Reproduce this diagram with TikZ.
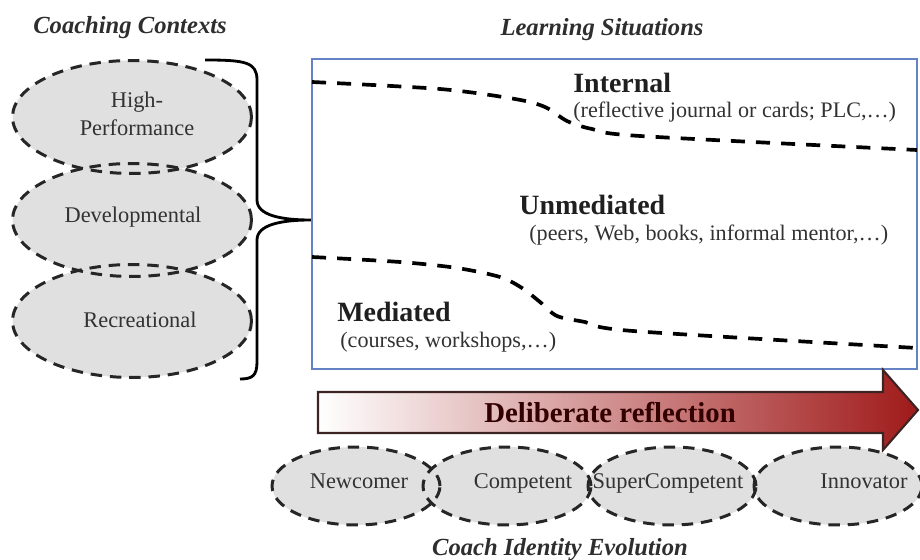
\documentclass[tikz,border=0pt]{standalone}
\usepackage{fontspec}
\setmainfont{Liberation Serif}
\usetikzlibrary{shapes.geometric}

\definecolor{ctxgray}{RGB}{224,224,224}
\definecolor{boxblue}{RGB}{100,130,196}
\definecolor{arrowred}{RGB}{160,26,26}
\definecolor{arrowline}{RGB}{60,36,36}
\definecolor{textgray}{RGB}{50,50,50}

\tikzset{
  stagefill/.style = {ellipse, fill = ctxgray, inner sep = 0pt},
  stageline/.style = {draw = black!85, line width = 1.7pt, dash pattern = on 6.5pt off 4.5pt},
  ctxlabel/.style = {font = \fontsize{12.75}{15.8}\selectfont, text = textgray, align = center, inner sep = 0pt},
  sitlabel/.style = {font = \fontsize{15.9}{18}\selectfont\bfseries, text = black!88, anchor = west, inner sep = 0pt},
  sitnote/.style = {font = \fontsize{12.6}{15}\selectfont, text = textgray, anchor = west, inner sep = 0pt},
  heading/.style = {font = \fontsize{14}{16}\selectfont\bfseries\itshape, text = black!82, inner sep = 0pt},
  divider/.style = {line width = 2.1pt, dash pattern = on 8pt off 6.3pt}
}

\begin{document}
\begin{tikzpicture}[x = 0.02cm, y = -0.02cm]
\useasboundingbox (0,0) rectangle (920,560);
\clip (0,0) rectangle (920,560);

\node[heading] (ctxhead) at (130,28) {Coaching Contexts};
\node[heading] (sithead) at (602,30) {Learning Situations};
\node[heading] (idhead) at (560,550) {Coach Identity Evolution};

\foreach \name/\ypos in {highperf/117, devel/220, recr/321}
  \node[stagefill, minimum width = 4.78cm, minimum height = 2.26cm] (\name) at (132,\ypos) {};
\foreach \name in {highperf, devel, recr}
  \draw[stageline] (\name.center) ellipse [x radius = 2.39cm, y radius = 1.13cm];
\node[ctxlabel] (highperftext) at (137,114) {High-\\Performance};
\node[ctxlabel] (develtext) at (133,217) {Developmental};
\node[ctxlabel] (recrtext) at (140,320) {Recreational};

\node[draw = boxblue, line width = 1.3pt, minimum width = 12.1cm, minimum height = 6.2cm, inner sep = 0pt] (situations) at (614.5,214) {};

\coordinate (bracetop) at (205,60);
\coordinate (bracetip) at (situations.west |- 0,220);
\coordinate (bracebot) at (240,379);
\draw[line width = 1.6pt] (bracetop) .. controls (245,60) and (257,62) .. (257,80) -- (257,200)
  .. controls (257,215) and (280,220) .. (bracetip)
  .. controls (280,220) and (257,225) .. (257,240) -- (257,362)
  .. controls (257,376) and (252,379) .. (bracebot);

\draw[divider] plot[smooth, tension = 0.5] coordinates {(312,82) (440,89) (515,99) (545,107) (567,121) (592,129) (640,136) (917,150)};
\draw[divider] plot[smooth, tension = 0.5] coordinates {(312,257) (400,262) (457,268) (500,277) (522,288) (540,302) (557,316) (585,322) (633,331) (917,348)};

\node[sitlabel] (internal) at (573,83) {Internal};
\node[sitnote] (internalnote) at (573,112) {(reflective journal or cards; PLC,…)};
\node[sitlabel] (unmed) at (519,205) {Unmediated};
\node[sitnote] (unmednote) at (529,235) {(peers, Web, books, informal mentor,…)};
\node[sitlabel] (medi) at (337,312) {Mediated};
\node[sitnote] (medinote) at (340,342) {(courses, workshops,…)};

\shadedraw[left color = white, right color = arrowred, draw = arrowline, line width = 1.2pt]
  (318,392) -- (883,392) -- (883,370) -- (918,410) -- (883,450) -- (883,433) -- (318,433) -- cycle;
\node[font = \fontsize{16.4}{18}\selectfont\bfseries, text = black!80!red, inner sep = 0pt] (reflect) at (610,412) {Deliberate reflection};

\foreach \name/\xpos in {newcomer/356, competent/507, supercomp/672, innovator/838}
  \node[stagefill, minimum width = 3.36cm, minimum height = 1.56cm] (\name) at (\xpos,486) {};
\foreach \name in {newcomer, competent, supercomp, innovator}
  \draw[stageline] (\name.center) ellipse [x radius = 1.68cm, y radius = 0.78cm];
\node[ctxlabel, anchor = base] (newtext) at (359,489) {Newcomer};
\node[ctxlabel, anchor = base] (comptext) at (523,489) {Competent};
\node[ctxlabel, anchor = base] (supertext) at (668,489) {SuperCompetent};
\node[ctxlabel, anchor = base] (innotext) at (864,489) {Innovator};
\end{tikzpicture}
\end{document}
